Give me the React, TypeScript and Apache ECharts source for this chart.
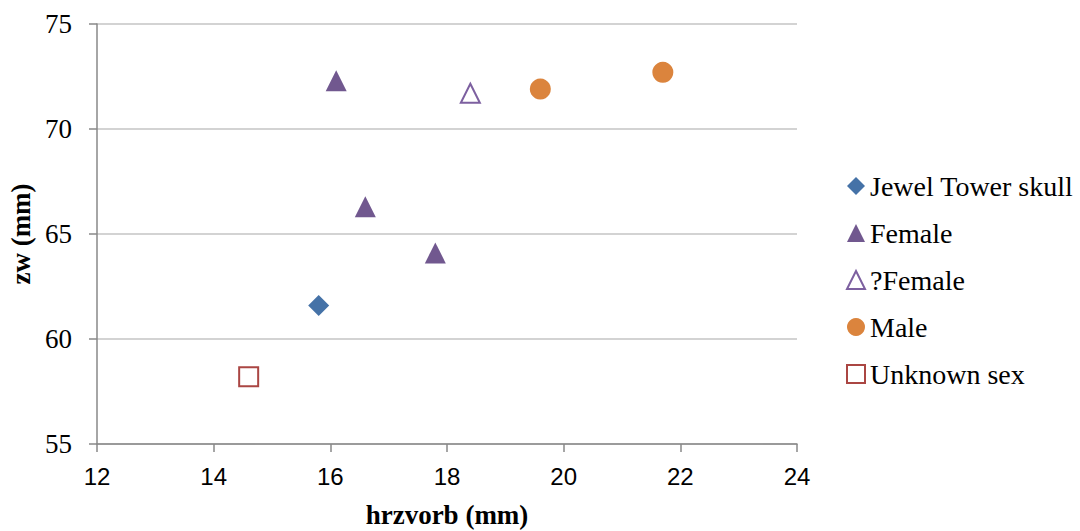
import React, { useEffect, useRef } from "react";
import * as echarts from "echarts";

const jewelTower: number[][] = [[15.8, 61.6]];
const female: number[][] = [[16.1, 72.3], [16.6, 66.3], [17.8, 64.1]];
const qFemale: number[][] = [[18.4, 71.7]];
const male: number[][] = [[19.6, 71.9], [21.7, 72.7]];
const unknownSex: number[][] = [[14.6, 58.2]];

const xTitle = "hrzvorb (mm)";
const yTitle = "zw (mm)";

const serif = "Liberation Serif";
const sans = "Liberation Sans";

export default function App() {
  const ref = useRef<HTMLDivElement>(null);
  useEffect(() => {
    if (!ref.current) return;
    const chart = echarts.init(ref.current, undefined, { renderer: "svg" });
    chart.setOption({
      animation: false,
      backgroundColor: "#ffffff",
      grid: { left: 97, right: 283, top: 24, bottom: 87, containLabel: false, outerBoundsMode: "none" },
      xAxis: {
        type: "value",
        min: 12,
        max: 24,
        interval: 2,
        name: xTitle,
        nameLocation: "middle",
        nameGap: 57,
        nameTextStyle: { fontFamily: serif, fontWeight: "bold", fontSize: 27, color: "#000" },
        axisLine: { show: true, lineStyle: { color: "#888", width: 1.5 } },
        axisTick: { show: true, length: 8, lineStyle: { color: "#888", width: 1.5 } },
        axisLabel: { fontFamily: sans, fontSize: 24, color: "#000", margin: 20 },
        splitLine: { show: false },
      },
      yAxis: {
        type: "value",
        min: 55,
        max: 75,
        interval: 5,
        name: yTitle,
        nameLocation: "middle",
        nameGap: 62,
        nameRotate: 90,
        nameTextStyle: { fontFamily: serif, fontWeight: "bold", fontSize: 27, color: "#000" },
        axisLine: { show: true, lineStyle: { color: "#888", width: 1.5 } },
        axisTick: { show: true, length: 8, lineStyle: { color: "#888", width: 1.5 } },
        axisLabel: { fontFamily: serif, fontSize: 27, color: "#000", margin: 25 },
        splitLine: { show: true, lineStyle: { color: "#c4c4c4", width: 1.5 } },
      },
      legend: {
        orient: "vertical",
        left: 846,
        top: 172,
        padding: 0,
        itemGap: 19,
        itemWidth: 18,
        itemHeight: 18,
        textStyle: { fontFamily: serif, fontSize: 28, color: "#000" },
        data: [
          { name: "Jewel Tower skull", icon: "diamond" },
          { name: "Female", icon: "triangle" },
          { name: "?Female", icon: "triangle" },
          { name: "Male", icon: "circle" },
          { name: "Unknown sex", icon: "rect" },
        ],
      },
      series: [
        {
          name: "Jewel Tower skull",
          type: "scatter",
          symbol: "diamond",
          symbolSize: 21,
          data: jewelTower,
          itemStyle: { color: "#4572a7", opacity: 1 },
        },
        {
          name: "Female",
          type: "scatter",
          symbol: "triangle",
          symbolSize: 21,
          data: female,
          itemStyle: { color: "#71588f", opacity: 1 },
        },
        {
          name: "?Female",
          type: "scatter",
          symbol: "triangle",
          symbolSize: 19,
          data: qFemale,
          itemStyle: { color: "#ffffff", borderColor: "#7d60a0", borderWidth: 2, opacity: 1 },
        },
        {
          name: "Male",
          type: "scatter",
          symbol: "circle",
          symbolSize: 21,
          data: male,
          itemStyle: { color: "#db843d", opacity: 1 },
        },
        {
          name: "Unknown sex",
          type: "scatter",
          symbol: "rect",
          symbolSize: 19,
          data: unknownSex,
          itemStyle: { color: "#ffffff", borderColor: "#aa4643", borderWidth: 2, opacity: 1 },
        },
      ],
    });
    return () => chart.dispose();
  }, []);
  return <div ref={ref} style={{ width: 1080, height: 531, position: "absolute", left: 0, top: 0 }} />;
}
